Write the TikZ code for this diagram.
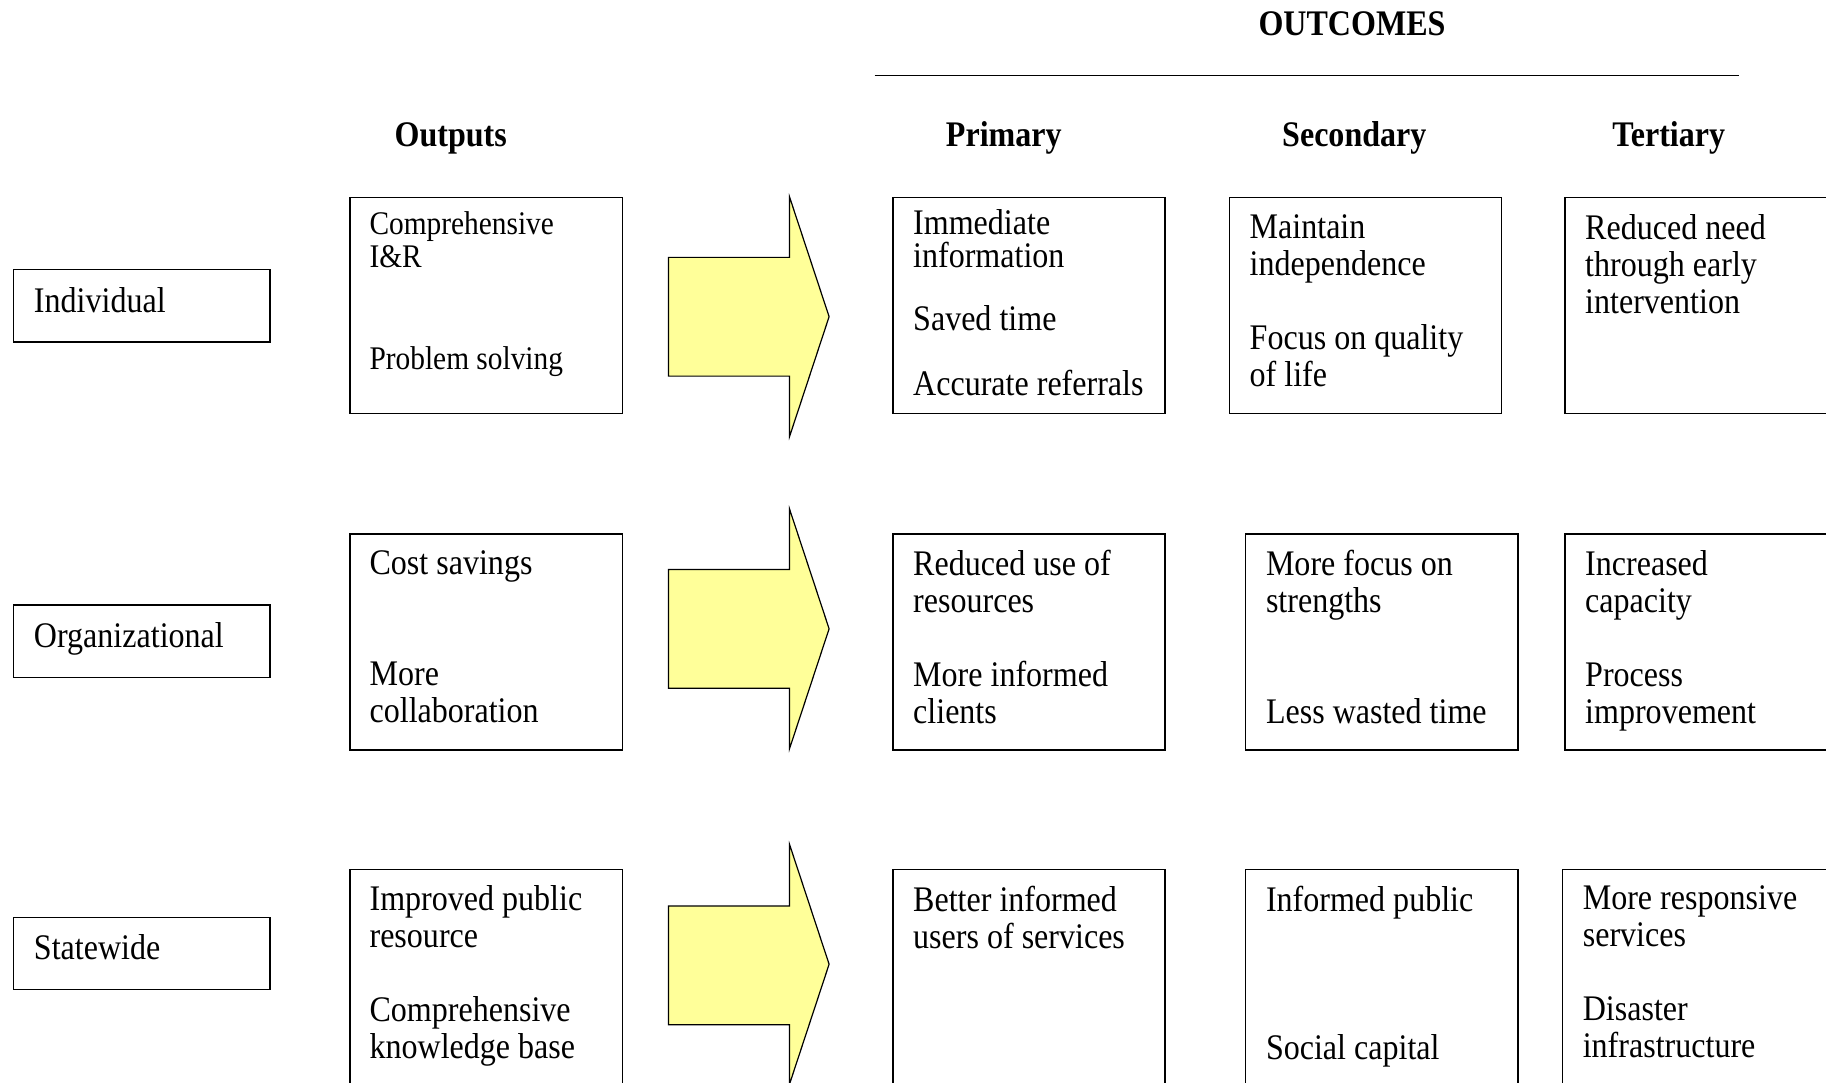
\documentclass[tikz,border=0pt]{standalone}
\usepackage{fontspec}
\setmainfont{Liberation Serif}[FakeStretch=0.89]
\usetikzlibrary{calc}

\begin{document}
\begin{tikzpicture}[x=1pt,y=-1pt,
    bx/.style={draw, line width=1.5pt, anchor=north west, inner sep=0pt, minimum width=272.4pt, minimum height=216pt},
    lvl/.style={draw, line width=1.5pt, anchor=north west, inner sep=0pt, minimum width=256.2pt, minimum height=72.2pt},
    txt/.style={anchor=north west, inner sep=0pt, align=left, font=\fontsize{36}{37}\selectfont, execute at begin node=\rule{0pt}{30pt}},
    hd/.style={inner sep=0pt, font=\fontsize{36}{37}\selectfont\bfseries},
    yarr/.style={fill={rgb,255:red,255;green,255;blue,153}, draw=black, line width=1.2pt}]
    \useasboundingbox (0,0) rectangle (1826,1083);
    \clip (0,0) rectangle (1826,1083);

    % headings
    \node[hd] (outc) at (1352,24) {OUTCOMES};
    \draw[line width=1.5pt] (874.6,75.7) -- (1738.6,75.7);
    \node[hd] (hout) at (450.7,138) {Outputs};
    \node[hd] (hpri) at (1003.8,138) {Primary};
    \node[hd] (hsec) at (1354.3,138) {Secondary};
    \node[hd] (hter) at (1668.7,138) {Tertiary};

    % levels
    \node[lvl] (lev1) at (12.8,269) {};
    \node[lvl] (lev2) at (12.8,604.4) {};
    \node[lvl] (lev3) at (12.8,916.5) {};
    \node[txt] (lev1t) at ($(lev1.north west)+(21,13)$) {Individual};
    \node[txt] (lev2t) at ($(lev2.north west)+(21,13)$) {Organizational};
    \node[txt] (lev3t) at ($(lev3.north west)+(21,13)$) {Statewide};

    % row 1
    \node[bx] (out1) at (349.4,196.8) {};
    \node[bx] (pri1) at (892,196.8) {};
    \node[bx] (sec1) at (1228.5,196.8) {};
    \node[bx] (ter1) at (1564,196.8) {};
    \node[txt, font=\fontsize{33}{33.5}\selectfont] (out1t) at ($(out1.north west)+(20,15)$) {Comprehensive\\[-0.8pt]I\&R\\[68.9pt]Problem solving};
    \node[txt] (pri1t) at ($(pri1.north west)+(21,13)$) {Immediate\\[-4.5pt]information\\[26pt]Saved time\\[28pt]Accurate referrals};
    \node[txt] (sec1t) at ($(sec1.north west)+(21,18)$) {Maintain\\independence\\[37pt]Focus on quality\\of life};
    \node[txt] (ter1t) at ($(ter1.north west)+(21,18)$) {Reduced need\\through early\\intervention};

    % row 2
    \node[bx] (out2) at (349.4,533.3) {};
    \node[bx] (pri2) at (892,533.3) {};
    \node[bx] (sec2) at (1244.8,533.3) {};
    \node[bx] (ter2) at (1564,533.3) {};
    \node[txt] (out2t) at ($(out2.north west)+(20,17)$) {Cost savings\\[74pt]More\\collaboration};
    \node[txt] (pri2t) at ($(pri2.north west)+(21,17)$) {Reduced use of\\resources\\[37pt]More informed\\clients};
    \node[txt] (sec2t) at ($(sec2.north west)+(21,17)$) {More focus on\\strengths\\[74pt]Less wasted time};
    \node[txt] (ter2t) at ($(ter2.north west)+(21,17)$) {Increased\\capacity\\[37pt]Process\\improvement};

    % row 3
    \node[bx] (out3) at (349.4,868.7) {};
    \node[bx] (pri3) at (892,868.7) {};
    \node[bx] (sec3) at (1244.8,868.7) {};
    \node[bx] (ter3) at (1561.6,868.7) {};
    \node[txt] (out3t) at ($(out3.north west)+(20,17)$) {Improved public\\resource\\[37pt]Comprehensive\\knowledge base};
    \node[txt] (pri3t) at ($(pri3.north west)+(21,17)$) {Better informed\\users of services};
    \node[txt] (sec3t) at ($(sec3.north west)+(21,17)$) {Informed public\\[111pt]Social capital};
    \node[txt] (ter3t) at ($(ter3.north west)+(21,17)$) {More responsive\\services\\[37pt]Disaster\\infrastructure};

    % block arrows
    \draw[yarr] (668.4,257.4) -- (789.5,257.4) -- (789.5,196.8) -- (829.1,316.7) -- (789.5,436.7) -- (789.5,376.1) -- (668.4,376.1) -- cycle;
    \draw[yarr] (668.4,569.4) -- (789.5,569.4) -- (789.5,508.9) -- (829.1,628.8) -- (789.5,748.8) -- (789.5,688.2) -- (668.4,688.2) -- cycle;
    \draw[yarr] (668.4,906) -- (789.5,906) -- (789.5,844.3) -- (829.1,964.2) -- (789.5,1084.2) -- (789.5,1024.8) -- (668.4,1024.8) -- cycle;
\end{tikzpicture}
\end{document}
